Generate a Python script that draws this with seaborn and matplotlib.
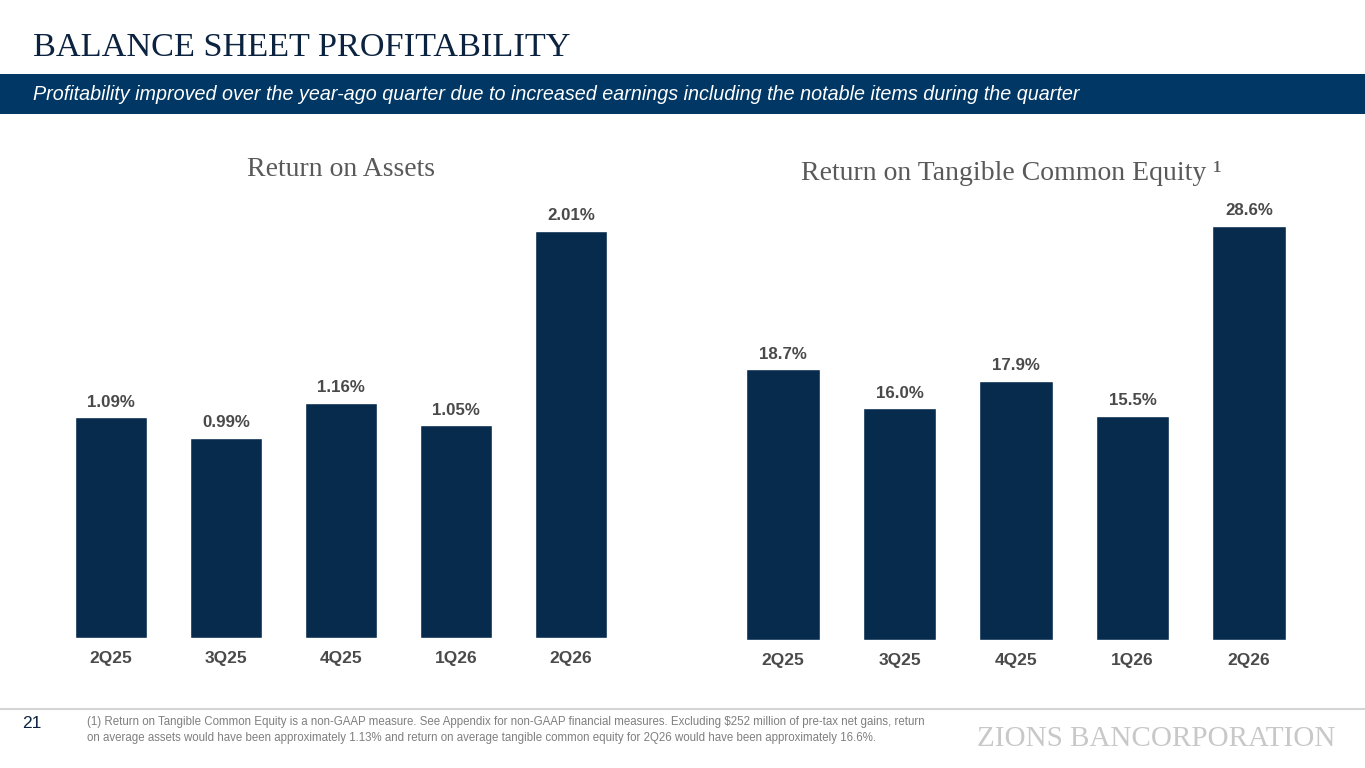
import matplotlib
matplotlib.use("Agg")
import matplotlib.pyplot as plt
import seaborn as sns
import pandas as pd

quarters = ["2Q25", "3Q25", "4Q25", "1Q26", "2Q26"]
roa_values = [1.09, 0.99, 1.16, 1.05, 2.01]
rotce_values = [18.7, 16.0, 17.9, 15.5, 28.6]
roa_labels = ["1.09%", "0.99%", "1.16%", "1.05%", "2.01%"]
rotce_labels = ["18.7%", "16.0%", "17.9%", "15.5%", "28.6%"]

sns.set_theme(style="white")
plt.rcParams['font.family'] = ['Liberation Sans', 'DejaVu Sans']

W, H = 1365, 768
fig = plt.figure(figsize=(W / 100, H / 100), dpi=100)
fig.patch.set_facecolor("white")

BAR = "#062b4d"
NAVY = "#003764"
GRAY = "#4a4a4a"

def fx(x):
    return x / W

def fy(y):
    return 1 - y / H

# Title
fig.text(fx(33), fy(48), "BALANCE SHEET PROFITABILITY", family="Liberation Serif",
         fontsize=24.7, color="#0c2340", va="center", ha="left")

# Banner
banner = plt.Rectangle((0, fy(114)), 1, (114 - 74) / H, transform=fig.transFigure,
                       facecolor=NAVY, edgecolor="none", zorder=0)
fig.patches.append(banner)
fig.text(fx(33), fy(95), "Profitability improved over the year-ago quarter due to increased earnings including the notable items during the quarter",
         fontsize=14.2, style="italic", color="white", va="center", ha="left")

def draw(ax_rect, values, labels, ymax, title, title_x, title_y):
    ax = fig.add_axes(ax_rect)
    df = pd.DataFrame({"q": quarters, "v": values})
    sns.barplot(data=df, x="q", y="v", color=BAR, width=0.63, saturation=1, ax=ax)
    ax.set_xlim(-0.5, 4.5)
    ax.set_ylim(0, ymax)
    for p, lab in zip(ax.patches, labels):
        ax.annotate(lab, (p.get_x() + p.get_width() / 2, p.get_height()),
                    xytext=(0, 5.5), textcoords="offset points", ha="center", va="bottom",
                    fontsize=12.2, fontweight="bold", color=GRAY)
    ax.set_xlabel("")
    ax.set_ylabel("")
    ax.set_yticks([])
    ax.tick_params(axis="x", length=0, pad=9, labelsize=12.5, labelcolor=GRAY)
    for t in ax.get_xticklabels():
        t.set_fontweight("bold")
    for s in ax.spines.values():
        s.set_visible(False)
    ax.set_facecolor("none")
    fig.text(fx(title_x), fy(title_y), title, family="Liberation Serif", fontsize=20,
             color="#595959", ha="center", va="center")
    return ax

# Left: Return on Assets
lb, lt = 638, 200
draw([fx(53.5), fy(lb), (628.5 - 53.5) / W, (lb - lt) / H], roa_values, roa_labels,
     (lb - lt) / 202.5, "Return on Assets", 341, 170)

# Right: ROTCE
rb, rt = 640, 200
draw([fx(724.75), fy(rb), (1307.25 - 724.75) / W, (rb - rt) / H], rotce_values, rotce_labels,
     (rb - rt) / 14.48, "Return on Tangible Common Equity \u00b9", 1011, 173)

# Footer line
fig.add_artist(plt.Line2D([0, 1], [fy(709), fy(709)], transform=fig.transFigure,
                          color="#d4d4d4", linewidth=1.5))
fig.text(fx(22), fy(723), "21", fontsize=12.5, color="#0c2340", va="center", ha="left")
fig.text(fx(87), fy(722), "(1) Return on Tangible Common Equity is a non-GAAP measure. See Appendix for non-GAAP financial measures. Excluding $252 million of pre-tax net gains, return",
         fontsize=8.3, color="#7f7f7f", va="center", ha="left")
fig.text(fx(87), fy(738), "on average assets would have been approximately 1.13% and return on average tangible common equity for 2Q26 would have been approximately 16.6%.",
         fontsize=8.3, color="#7f7f7f", va="center", ha="left")
fig.text(fx(1335), fy(739), "ZIONS BANCORPORATION", family="Liberation Serif", fontsize=21,
         color="#c8c8c8", va="center", ha="right")

fig.savefig("out.png", dpi=100, facecolor="white")
